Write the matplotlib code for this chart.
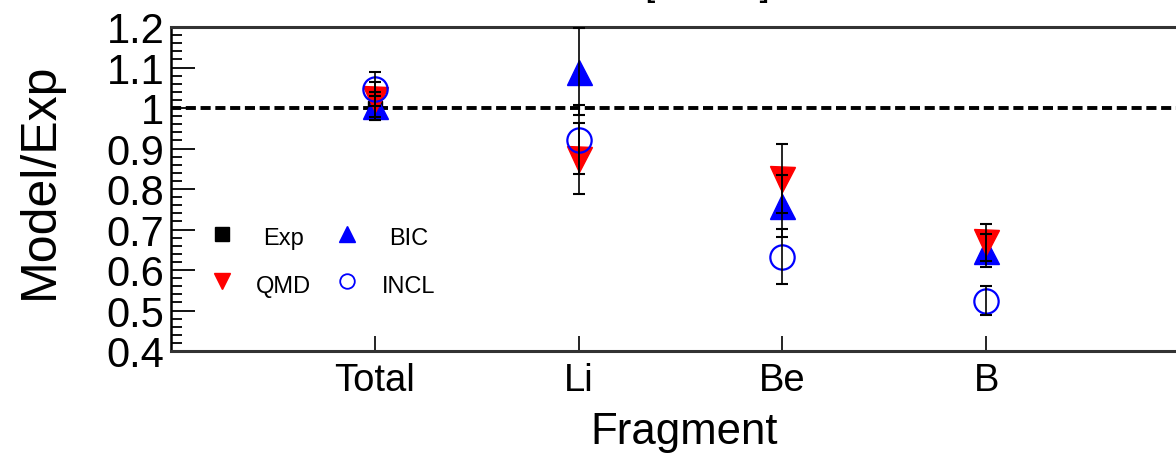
import matplotlib
matplotlib.use("Agg")
import matplotlib.pyplot as plt
from matplotlib.ticker import MultipleLocator, FuncFormatter

plt.rcParams['font.family'] = ['Liberation Sans', 'DejaVu Sans']

# Model / experiment ratios per fragment
fragments = ["Total", "Li", "Be", "B"]

exp_ratio = [1.0]
exp_err = [0.03]

bic_ratio = [1.005, 1.09, 0.758, 0.648]
bic_err = [0.034, 0.108, 0.077, 0.040]

qmd_ratio = [1.022, 0.875, 0.825, 0.668]
qmd_err = [0.043, 0.087, 0.085, 0.045]

incl_ratio = [1.047, 0.922, 0.633, 0.524]
incl_err = [0.041, 0.085, 0.068, 0.036]

W, H = 1176, 460
fig = plt.figure(figsize=(W / 100, H / 100), dpi=100)
ax = fig.add_axes([170.5 / W, 108 / H, 1020 / W, 324 / H])
ax.set_xlim(0, 5)
ax.set_ylim(0.4, 1.2)

ax.axhline(1.0, color='black', lw=2.8, ls=(0, (2.6, 1.2)), zorder=2)

series = [
    ("Exp", exp_ratio, exp_err, dict(marker='s', color='black', ms=10)),
    ("BIC", bic_ratio, bic_err, dict(marker='^', color='#0000ff', ms=18)),
    ("QMD", qmd_ratio, qmd_err, dict(marker='v', color='#ff0000', ms=18)),
    ("INCL", incl_ratio, incl_err, dict(marker='o', color='#0000ff', ms=17.5,
                                        mfc='none', mew=1.6)),
]

for i, (name, vals, errs, style) in enumerate(series):
    x = [k + 1 for k in range(len(vals))]
    ax.plot(x, vals, ls='none', zorder=3 + i * 0.1, **style)
    ax.errorbar(x, vals, yerr=errs, fmt='none', ecolor='black',
                elinewidth=1.2, capsize=4.5, capthick=1.5, zorder=5)

# axes styling
ax.yaxis.set_major_locator(MultipleLocator(0.1))
ax.yaxis.set_minor_locator(MultipleLocator(0.02))
ax.yaxis.set_major_formatter(FuncFormatter(lambda v, p: f"{v:g}"))
ax.tick_params(axis='y', which='major', direction='in', length=17, width=1.3,
               labelsize=30, pad=4.5, right=False)
ax.tick_params(axis='y', which='minor', direction='in', length=8, width=1.3,
               right=False)
ax.set_xticks(range(1, len(fragments) + 1), fragments)
ax.tick_params(axis='x', which='major', direction='in', length=11, width=1.2,
               labelsize=27.5, pad=8, top=False)
ax.tick_params(axis='x', which='minor', bottom=False, top=False)

for s in ax.spines.values():
    s.set_linewidth(2.2)
    s.set_color('#333333')
ax.spines['left'].set_color('black')
ax.spines['left'].set_linewidth(1.8)

ax.set_ylabel("Model/Exp", fontsize=36)
ax.yaxis.set_label_coords(-0.1054, 0.528)
ax.set_xlabel("Fragment", fontsize=31.5)
ax.xaxis.set_label_coords(0.504, -0.185)

# title sits above the frame
fig.text(770 / W, 1 + 4.5 / H, "E [MeV/u]", fontsize=26, ha='right',
         va='baseline')

# legend: two columns, label text centred beside each key
legend_marker_x = [0.0505, 0.173]
legend_text_x = [0.1103, 0.2338]
legend_marker_y = [0.361, 0.216]
legend_text_y = [0.330, 0.182]
legend_sizes = {"Exp": 10, "BIC": 11, "QMD": 11, "INCL": 10.5}
legend_order = [("Exp", 0, 0), ("QMD", 0, 1), ("BIC", 1, 0), ("INCL", 1, 1)]
styles = {name: style for name, _, _, style in series}
for name, col, row in legend_order:
    st = dict(styles[name])
    st['ms'] = legend_sizes[name]
    if name == "INCL":
        st['mew'] = 1.3
    ax.plot([legend_marker_x[col]], [legend_marker_y[row]], ls='none',
            transform=ax.transAxes, clip_on=False, **st)
    ax.text(legend_text_x[col], legend_text_y[row], name, fontsize=17,
            ha='center', va='baseline', transform=ax.transAxes)

fig.savefig("out.png", dpi=100)
